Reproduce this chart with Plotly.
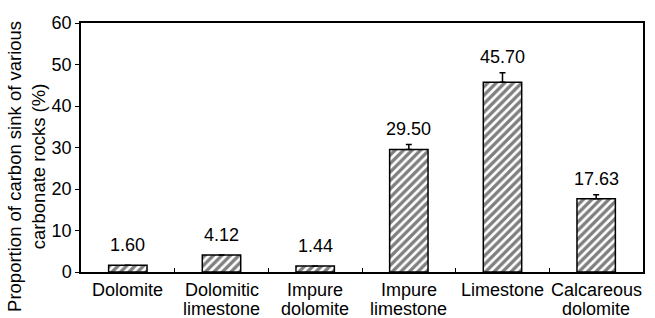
import plotly.graph_objects as go

categories = ["Dolomite", "Dolomitic<br>limestone", "Impure<br>dolomite",
              "Impure<br>limestone", "Limestone", "Calcareous<br>dolomite"]
values = [1.60, 4.12, 1.44, 29.50, 45.70, 17.63]
errors = [0.0, 0.0, 0.0, 1.2, 2.3, 1.0]
y_ticks = [0, 10, 20, 30, 40, 50, 60]
y_title = "Proportion of carbon sink of various<br>carbonate rocks (%)"

FONT = "Liberation Sans, Arial, sans-serif"

fig = go.Figure()
fig.add_trace(go.Bar(
    x=categories, y=values, width=0.41,
    marker=dict(color="white", line=dict(color="black", width=1.5),
                pattern=dict(shape="/", size=6, solidity=0.55,
                             fgcolor="black", bgcolor="white")),
    error_y=dict(type="data", symmetric=False, array=errors,
                 arrayminus=[0] * len(errors), color="black",
                 thickness=1.5, width=3, visible=True),
    showlegend=False,
))

for c, v, e in zip(categories, values, errors):
    fig.add_annotation(x=c, y=v + e, text=f"{v:.2f}", showarrow=False,
                       xanchor="center", yanchor="bottom",
                       yshift=4 if e > 0 else 8,
                       font=dict(family=FONT, size=18, color="black"))

# category labels, one line per annotation for tighter line spacing
for c in categories:
    for i, line in enumerate(c.split("<br>")):
        fig.add_annotation(x=c, xref="x", yref="paper", y=0, text=line,
                           showarrow=False, xanchor="center", yanchor="middle",
                           yshift=-18 - 19 * i,
                           font=dict(family=FONT, size=18, color="black"))

fig.add_annotation(xref="paper", yref="paper", x=0, y=0.422, xshift=-54,
                   text=y_title, showarrow=False, textangle=-90, align="center",
                   xanchor="center", yanchor="middle",
                   font=dict(family=FONT, size=18.5, color="black"))

fig.update_layout(
    width=655, height=318,
    margin=dict(l=81, r=12, t=23, b=46),
    paper_bgcolor="white", plot_bgcolor="white",
    font=dict(family=FONT, size=18, color="black"),
    bargap=0.59,
)
fig.update_xaxes(type="category", range=[-0.5, 5.5], showline=True,
                 linecolor="black", linewidth=1.5, mirror=True, automargin=False,
                 ticks="inside", tickson="boundaries", ticklen=4,
                 tickcolor="black", tickwidth=1, showgrid=False,
                 showticklabels=False)
fig.update_yaxes(range=[0, 60], tickvals=y_ticks, showline=True,
                 linecolor="black", linewidth=1.5, mirror=True, automargin=False,
                 ticks="outside", ticklen=4, tickcolor="black", tickwidth=1,
                 showgrid=False, zeroline=False,
                 tickfont=dict(family=FONT, size=18, color="black"))

fig.write_html("out.html", config={"displayModeBar": False},
               post_script="document.body.style.margin='0px';document.body.style.overflow='hidden';")
